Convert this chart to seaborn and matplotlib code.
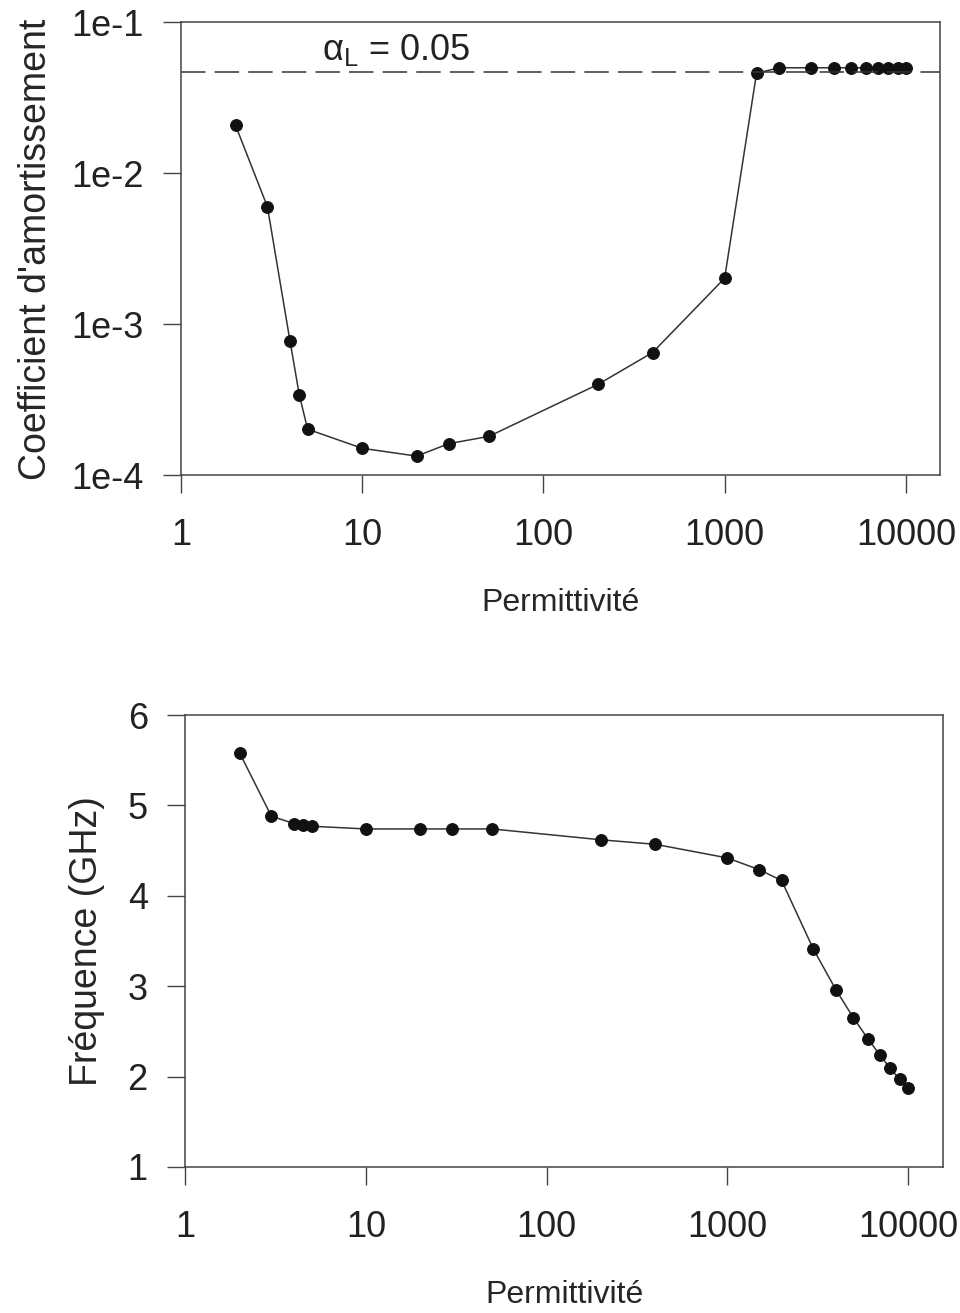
import numpy as np
import pandas as pd
import matplotlib
matplotlib.use("Agg")
import matplotlib.pyplot as plt
import matplotlib.ticker as mticker
import seaborn as sns

# Permittivity values (same for both panels)
permittivity = [2, 3, 4, 4.5, 5, 10, 20, 30, 50, 200, 400, 1000, 1500,
                2000, 3000, 4000, 5000, 6000, 7000, 8000, 9000, 10000]

# Damping coefficient (top panel, log scale)
damping = [0.0208, 0.0060, 7.7e-4, 3.4e-4, 2.02e-4, 1.51e-4, 1.34e-4, 1.62e-4,
           1.81e-4, 4.0e-4, 6.5e-4, 2.02e-3, 0.046,
           0.050, 0.050, 0.050, 0.050, 0.050, 0.050, 0.050, 0.050, 0.050]

# Frequency in GHz (bottom panel)
frequency = [5.58, 4.88, 4.80, 4.78, 4.77, 4.74, 4.74, 4.74, 4.74, 4.62, 4.57,
             4.42, 4.29, 4.17, 3.41, 2.96, 2.65, 2.42, 2.24, 2.09, 1.97, 1.87]

alpha_limit = 0.047
x_ticks = [1, 10, 100, 1000, 10000]
y_ticks_top = [1e-4, 1e-3, 1e-2, 1e-1]
y_labels_top = ["1e-4", "1e-3", "1e-2", "1e-1"]
y_ticks_bottom = [1, 2, 3, 4, 5, 6]

df = pd.DataFrame({"eps": permittivity, "alpha": damping, "freq": frequency})

sns.set_style("white")
plt.rcParams["font.family"] = ["Liberation Sans", "DejaVu Sans"]
plt.rcParams["mathtext.fontset"] = "custom"
plt.rcParams["mathtext.rm"] = "Liberation Sans"
plt.rcParams["mathtext.it"] = "Liberation Sans:italic"

fig = plt.figure(figsize=(9.6, 13.13), dpi=100)
ax1 = fig.add_axes([0.1885, 0.638, 0.7905, 0.345])
ax2 = fig.add_axes([0.193, 0.1112, 0.789, 0.3442])

line_kw = dict(color="#333333", linewidth=1.1, marker="o", markersize=8.5,
               markerfacecolor="#111111", markeredgecolor="#111111")

sns.lineplot(data=df, x="eps", y="alpha", ax=ax1, **line_kw)
ax1.set_xscale("log")
ax1.set_yscale("log")
ax1.set_xlim(1, 15400)
ax1.set_ylim(1e-4, 1e-1)
ax1.axhline(alpha_limit, color="#333333", linestyle=(0, (16, 6)), linewidth=1.1)
ax1.text(6.0, 0.066, "α$_{\\mathrm{L}}$ = 0.05", fontsize=26,
         ha="left", va="center", color="#222222")
ax1.set_yticks(y_ticks_top)
ax1.set_yticklabels(y_labels_top)
ax1.set_ylabel("Coefficient d'amortissement", fontsize=27, labelpad=12)

sns.lineplot(data=df, x="eps", y="freq", ax=ax2, **line_kw)
ax2.set_xscale("log")
ax2.set_xlim(1, 15600)
ax2.set_ylim(1, 6)
ax2.set_yticks(y_ticks_bottom)
ax2.set_ylabel("Fréquence (GHz)", fontsize=27, labelpad=16)

for ax in (ax1, ax2):
    ax.set_xticks(x_ticks)
    ax.xaxis.set_major_formatter(mticker.FuncFormatter(lambda v, p: f"{int(round(v))}"))
    ax.xaxis.set_minor_locator(mticker.NullLocator())
    ax.yaxis.set_minor_locator(mticker.NullLocator())
    ax.set_xlabel("Permittivité", fontsize=23, labelpad=25)
    ax.tick_params(axis="both", which="major", direction="out", length=13,
                   width=1, color="#444444", labelsize=26, labelcolor="#222222",
                   left=True, bottom=True)
    ax.tick_params(axis="x", pad=18)
    ax.tick_params(axis="y", pad=14)
    for sp in ax.spines.values():
        sp.set_visible(True)
        sp.set_color("#444444")
        sp.set_linewidth(1.1)
    ax.grid(False)

fig.savefig("out.png", dpi=100)
